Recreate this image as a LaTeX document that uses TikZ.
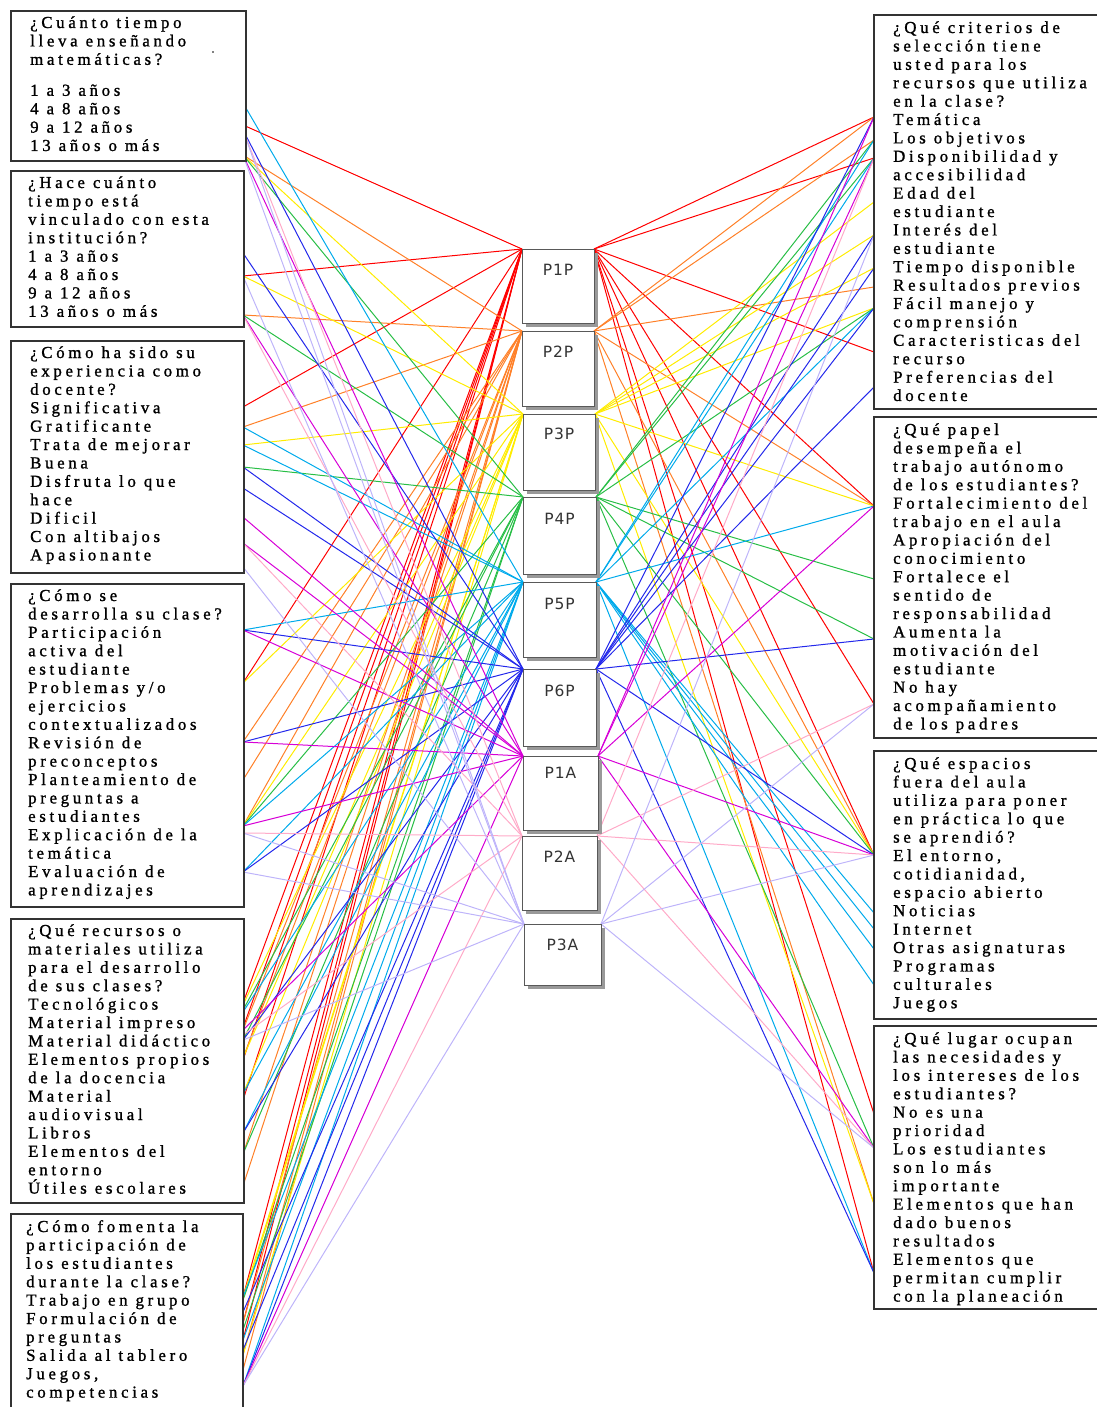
\documentclass[tikz,border=0pt]{standalone}
\usepackage{fontspec}
\setmainfont{Liberation Serif}[LetterSpace=22,FakeBold=1.2]
\newfontfamily\labfont{DejaVu Sans}[LetterSpace=6]
\newcommand\qspacing{\spaceskip=8pt plus 1pt minus 1pt\relax}
\definecolor{cRed}{RGB}{255,0,0}
\definecolor{cOrange}{RGB}{255,128,40}
\definecolor{cYellow}{RGB}{255,236,0}
\definecolor{cGreen}{RGB}{40,190,70}
\definecolor{cCyan}{RGB}{0,170,235}
\definecolor{cBlue}{RGB}{35,40,235}
\definecolor{cMagenta}{RGB}{215,0,215}
\definecolor{cPink}{RGB}{255,170,200}
\definecolor{cLav}{RGB}{190,180,250}
\begin{document}
\begin{tikzpicture}[x=1pt,y=-1pt,
  qbox/.style={draw=black!80, line width=1.6pt, fill=white, inner sep=0pt, anchor=north west},
  qtext/.style={anchor=base west, inner sep=0pt, text width=240pt, align=left,
    font=\fontsize{16.8}{18.4}\selectfont, execute at begin node=\qspacing},
  pbox/.style={draw=black!65, line width=0.8pt, fill=white, anchor=north west, inner sep=0pt},
  pshadow/.style={fill=black!40},
  plab/.style={inner sep=0pt, font=\labfont\fontsize{15.5}{16}\selectfont, text=black!80},
  conn/.style={line width=1pt}]
\useasboundingbox (0,0) rectangle (1096,1407);
% anchor points of the centre boxes
\foreach \n/\xa/\ya/\xb in {P1P/522/249/594, P2P/522/331/594, P3P/523/414/595,
  P4P/523/497/596, P5P/523/582/596, P6P/523/669/596, P1A/523/756/598,
  P2A/522/836/597, P3A/524/924/601}{
  \path (\xa,\ya) coordinate (\n tl) (\xb,\ya) coordinate (\n tr);
}
% connectors
\foreach \n/\c/\ls/\rs in {
  P1P/cRed/{125,276,407,683,1003,1028,1060,1100,1297,1323,1340}/{117,158,352,506,704,855,1114,1273},
  P2P/cOrange/{155,315,427,742,780,826,1030,1058,1154,1186,1323,1355,1370}/{117,140,287,506,855,1204},
  P3P/cYellow/{155,276,445,683,826,1005,1058,1094,1297,1300,1355}/{202,235,268,308,506,855,1204},
  P4P/cGreen/{155,315,467,826,1010,1040,1154,1300,1330}/{140,158,308,579,639,855,1148},
  P5P/cCyan/{103,427,445,630,826,872,1012,1094,1133,1297,1340,1386}/{140,158,308,506,913,929,949,985,1273},
  P6P/cBlue/{130,253,467,488,630,742,872,1040,1133,1312,1350,1386}/{117,235,268,308,387,639,855,1273},
  P1A/cMagenta/{155,315,517,543,630,742,826,1030,1386}/{117,158,506,855,1148},
  P2A/cPink/{130,315,543,833,1035,1386}/{158,704,855,1148},
  P3A/cLav/{130,155,276,567,833,872,1040,1386}/{235,704,855,1148}}{
  \foreach \y in \ls {
    \path (243,\y) coordinate (la\y);
    \draw[conn,\c] (\n tl) -- (la\y);
  }
  \foreach \y in \rs {
    \path (874,\y) coordinate (ra\y);
    \draw[conn,\c] (\n tr) -- (ra\y);
  }
}
% centre boxes
\foreach \n/\xa/\ya/\xb/\yb/\ly in {P1P/522/249/594/323/270, P2P/522/331/594/406/352, P3P/523/414/595/490/434,
  P4P/523/497/596/574/519, P5P/523/582/596/657/604, P6P/523/669/596/746/691, P1A/523/756/598/830/773,
  P2A/522/836/597/910/857, P3A/524/924/601/985/945}{
  \fill[pshadow] (\xa+3.5,\ya+3.5) rectangle (\xb+3.5,\yb+3.5);
  \node[pbox, minimum width={(\xb-\xa)*1pt}, minimum height={(\yb-\ya)*1pt}] (\n) at (\xa,\ya) {};
  \node[plab] (\n lab) at ({(\xa+\xb)/2},\ly) {\n};
}
% left boxes
\node[qbox, minimum width=235pt, minimum height=150pt] (L1) at (10,10) {};
\node[qbox, minimum width=233pt, minimum height=156pt] (L2) at (10,170) {};
\node[qbox, minimum width=233pt, minimum height=232pt] (L3) at (10,340) {};
\node[qbox, minimum width=233pt, minimum height=323pt] (L4) at (10,583) {};
\node[qbox, minimum width=233pt, minimum height=284pt] (L5) at (10,918) {};
\node[qbox, minimum width=232pt, minimum height=210pt] (L6) at (10,1213) {};
% right boxes
\node[qbox, minimum width=226pt, minimum height=394pt] (R1) at (873,14) {};
\node[qbox, minimum width=226pt, minimum height=321pt] (R2) at (873,416) {};
\node[qbox, minimum width=226pt, minimum height=268pt] (R3) at (873,750) {};
\node[qbox, minimum width=226pt, minimum height=283pt] (R4) at (873,1025) {};
\fill[black] (213,52) circle (0.9pt);
% texts
\node[qtext] (L1t) at (30,28) {¿Cuánto tiempo\\ lleva enseñando\\ matemáticas?\\[12.6pt] 1 a 3 años\\ 4 a 8 años\\ 9 a 12 años\\ 13 años o más};
\node[qtext] (L2t) at (28,188) {¿Hace cuánto\\ tiempo está\\ vinculado con esta\\ institución?\\ 1 a 3 años\\ 4 a 8 años\\ 9 a 12 años\\ 13 años o más};
\node[qtext] (L3t) at (30,358) {¿Cómo ha sido su\\ experiencia como\\ docente?\\ Significativa\\ Gratificante\\ Trata de mejorar\\ Buena\\ Disfruta lo que\\ hace\\ Dificil\\ Con altibajos\\ Apasionante};
\node[qtext] (L4t) at (28,601) {¿Cómo se\\ desarrolla su clase?\\ Participación\\ activa del\\ estudiante\\ Problemas y/o\\ ejercicios\\ contextualizados\\ Revisión de\\ preconceptos\\ Planteamiento de\\ preguntas a\\ estudiantes\\ Explicación de la\\ temática\\ Evaluación de\\ aprendizajes};
\node[qtext] (L5t) at (28,936) {¿Qué recursos o\\ materiales utiliza\\ para el desarrollo\\ de sus clases?\\ Tecnológicos\\ Material impreso\\ Material didáctico\\ Elementos propios\\ de la docencia\\ Material\\ audiovisual\\ Libros\\ Elementos del\\ entorno\\ Útiles escolares};
\node[qtext] (L6t) at (26,1232) {¿Cómo fomenta la\\ participación de\\ los estudiantes\\ durante la clase?\\ Trabajo en grupo\\ Formulación de\\ preguntas\\ Salida al tablero\\ Juegos,\\ competencias};
\node[qtext] (R1t) at (893,33) {¿Qué criterios de\\ selección tiene\\ usted para los\\ recursos que utiliza\\ en la clase?\\ Temática\\ Los objetivos\\ Disponibilidad y\\ accesibilidad\\ Edad del\\ estudiante\\ Interés del\\ estudiante\\ Tiempo disponible\\ Resultados previos\\ Fácil manejo y\\ comprensión\\ Caracteristicas del\\ recurso\\ Preferencias del\\ docente};
\node[qtext] (R2t) at (893,435) {¿Qué papel\\ desempeña el\\ trabajo autónomo\\ de los estudiantes?\\ Fortalecimiento del\\ trabajo en el aula\\ Apropiación del\\ conocimiento\\ Fortalece el\\ sentido de\\ responsabilidad\\ Aumenta la\\ motivación del\\ estudiante\\ No hay\\ acompañamiento\\ de los padres};
\node[qtext] (R3t) at (893,769) {¿Qué espacios\\ fuera del aula\\ utiliza para poner\\ en práctica lo que\\ se aprendió?\\ El entorno,\\ cotidianidad,\\ espacio abierto\\ Noticias\\ Internet\\ Otras asignaturas\\ Programas\\ culturales\\ Juegos};
\node[qtext] (R4t) at (893,1044) {¿Qué lugar ocupan\\ las necesidades y\\ los intereses de los\\ estudiantes?\\ No es una\\ prioridad\\ Los estudiantes\\ son lo más\\ importante\\ Elementos que han\\ dado buenos\\ resultados\\ Elementos que\\ permitan cumplir\\ con la planeación};
\end{tikzpicture}
\end{document}
